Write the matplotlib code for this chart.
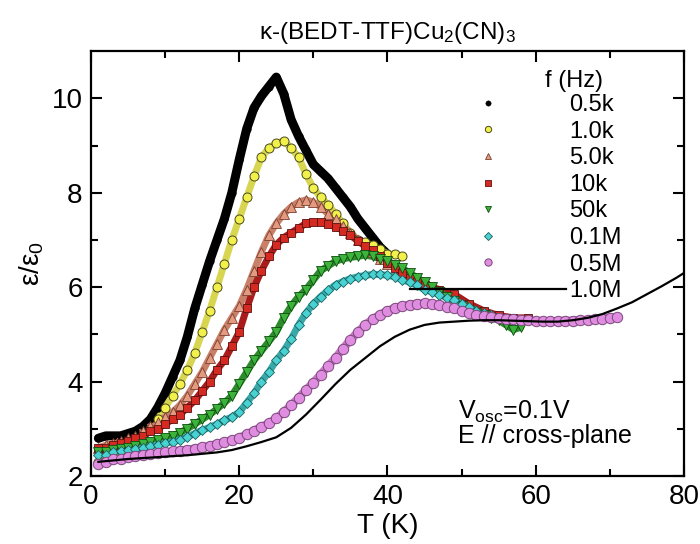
import numpy as np
import matplotlib
matplotlib.use("Agg")
import matplotlib.pyplot as plt
from matplotlib.lines import Line2D

plt.rcParams['font.family'] = ['Liberation Sans', 'DejaVu Sans']
plt.rcParams['mathtext.default'] = 'regular'

# ---------------- data ----------------
T_05k = [1, 2, 3, 4, 5, 6, 7, 8, 9, 10, 11, 12, 13, 14, 15, 16, 17, 18, 19, 20,
         21, 22, 23, 24, 25, 26, 27, 28, 29, 30, 31, 32, 33, 34, 35, 36, 37, 38, 39, 40]
E_05k = [2.8, 2.85, 2.85, 2.85, 2.9, 2.95, 3.05, 3.2, 3.45, 3.75, 4.1, 4.45, 4.95, 5.55, 6.05, 6.55, 7.0, 7.45, 8.0, 8.7,
         9.35, 9.8, 10.05, 10.25, 10.45, 10.1, 9.55, 9.2, 8.9, 8.6, 8.45, 8.3, 8.1, 7.9, 7.7, 7.45, 7.25, 7.05, 6.85, 6.7]

T_1k = [1, 2, 3, 4, 5, 6, 7, 8, 9, 10, 11, 12, 13, 14, 15, 16, 17, 18, 19, 20, 21,
        22, 23, 24, 25, 26, 27, 28, 29, 30, 31, 32, 33, 34, 35, 36, 37, 38, 39, 40, 41, 42]
E_1k = [2.3, 2.4, 2.45, 2.55, 2.65, 2.75, 2.85, 3.0, 3.2, 3.45, 3.7, 3.95, 4.25, 4.6, 5.05, 5.5, 6.0, 6.5, 7.0, 7.45, 7.9,
        8.35, 8.75, 8.95, 9.05, 9.1, 8.95, 8.75, 8.4, 8.1, 7.9, 7.75, 7.55, 7.35, 7.15, 7.0, 6.95, 6.9, 6.8, 6.7, 6.7, 6.65]

T_5k = [1, 2, 3, 4, 5, 6, 7, 8, 9, 10, 11, 12, 13, 14, 15, 16, 17, 18, 19, 20,
        21, 22, 23, 24, 25, 26, 27, 28, 29, 30, 31, 32, 33, 34, 35, 36, 37, 38, 39, 40]
E_5k = [2.6, 2.65, 2.7, 2.75, 2.8, 2.85, 2.95, 3.05, 3.15, 3.25, 3.35, 3.5, 3.7, 3.95, 4.2, 4.5, 4.8, 5.1, 5.35, 5.6,
        5.95, 6.35, 6.75, 7.1, 7.35, 7.55, 7.7, 7.8, 7.85, 7.8, 7.7, 7.55, 7.45, 7.3, 7.15, 7.0, 6.85, 6.75, 6.6, 6.5]

T_10k = [1, 2, 3, 4, 5, 6, 7, 8, 9, 10, 11, 12, 13, 14, 15, 16, 17, 18, 19, 20,
         21, 22, 23, 24, 25, 26, 27, 28, 29, 30, 31, 32, 33, 34, 35, 36, 37, 38, 39, 40,
         41, 42, 43, 44, 45, 47, 49, 51, 53, 55, 57, 59]
E_10k = [2.6, 2.6, 2.65, 2.7, 2.75, 2.8, 2.85, 2.95, 3.0, 3.1, 3.2, 3.3, 3.45, 3.6, 3.8, 4.0, 4.25, 4.45, 4.75, 5.05,
         5.55, 6.0, 6.35, 6.65, 6.9, 7.05, 7.15, 7.25, 7.35, 7.37, 7.37, 7.33, 7.28, 7.2, 7.1, 6.98, 6.88, 6.78, 6.65, 6.52,
         6.4, 6.3, 6.2, 6.12, 6.05, 5.95, 5.85, 5.65, 5.5, 5.4, 5.35, 5.35]

T_50k = [1, 2, 3, 4, 5, 6, 7, 8, 9, 10, 11, 12, 13, 14, 15, 16, 17, 18, 19, 20,
         21, 22, 23, 24, 25, 26, 27, 28, 29, 30, 31, 32, 33, 34, 35, 36, 37, 38, 39, 40,
         41, 42, 43, 44, 45, 46, 47, 48, 49, 50, 51, 52, 53, 54, 55, 56, 57, 58]
E_50k = [2.5, 2.5, 2.55, 2.58, 2.6, 2.63, 2.67, 2.72, 2.76, 2.8, 2.85, 2.92, 3.0, 3.1, 3.2, 3.3, 3.42, 3.55, 3.7, 3.95,
         4.2, 4.45, 4.65, 4.85, 5.05, 5.35, 5.6, 5.8, 5.95, 6.15, 6.35, 6.45, 6.55, 6.6, 6.63, 6.65, 6.68, 6.65, 6.6, 6.55,
         6.48, 6.4, 6.3, 6.2, 6.1, 6.0, 5.9, 5.8, 5.7, 5.6, 5.5, 5.45, 5.4, 5.35, 5.3, 5.2, 5.1, 5.15]

T_01M = [1, 2, 3, 4, 5, 6, 7, 8, 9, 10, 11, 12, 13, 14, 15, 16, 17, 18, 19, 20,
         21, 22, 23, 24, 25, 26, 27, 28, 29, 30, 31, 32, 33, 34, 35, 36, 37, 38, 39, 40,
         41, 42, 43, 44, 45, 46, 47, 48, 49, 50, 51, 52, 53, 54, 55, 56, 57, 58]
E_01M = [2.45, 2.45, 2.5, 2.52, 2.55, 2.57, 2.6, 2.63, 2.66, 2.7, 2.72, 2.77, 2.83, 2.9, 2.97, 3.03, 3.1, 3.18, 3.25, 3.35,
         3.55, 3.75, 4.0, 4.2, 4.45, 4.65, 4.9, 5.2, 5.45, 5.65, 5.8, 5.93, 6.05, 6.12, 6.18, 6.22, 6.25, 6.27, 6.27, 6.25,
         6.22, 6.16, 6.1, 6.04, 5.95, 5.9, 5.84, 5.78, 5.72, 5.65, 5.58, 5.5, 5.45, 5.4, 5.35, 5.32, 5.3, 5.3]

T_05M = [1, 2, 3, 4, 5, 6, 7, 8, 9, 10, 11, 12, 13, 14, 15, 16, 17, 18, 19, 20,
         21, 22, 23, 24, 25, 26, 27, 28, 29, 30, 31, 32, 33, 34, 35, 36, 37, 38, 39, 40,
         41, 42, 43, 44, 45, 46, 47, 48, 49, 50, 51, 52, 53, 54, 55, 56, 57, 58, 59, 60,
         61, 62, 63, 64, 65, 66, 67, 68, 69, 70, 71]
E_05M = [2.25, 2.3, 2.35, 2.37, 2.4, 2.42, 2.44, 2.46, 2.48, 2.5, 2.52, 2.54, 2.56, 2.58, 2.61, 2.64, 2.68, 2.72, 2.76, 2.81,
         2.88, 2.96, 3.04, 3.12, 3.22, 3.35, 3.5, 3.65, 3.82, 3.98, 4.15, 4.33, 4.5, 4.7, 4.88, 5.05, 5.2, 5.32, 5.42, 5.5,
         5.56, 5.6, 5.63, 5.65, 5.66, 5.65, 5.62, 5.59, 5.55, 5.5, 5.46, 5.42, 5.39, 5.37, 5.35, 5.33, 5.32, 5.31, 5.3, 5.29,
         5.28, 5.28, 5.28, 5.29, 5.29, 5.3, 5.31, 5.32, 5.33, 5.35, 5.37]

T_1M = [1, 3, 5, 7, 9, 11, 13, 15, 17, 19, 21, 23, 25, 27, 29, 31, 33, 35, 37, 39, 41,
        43, 45, 47, 49, 51, 53, 55, 57, 59, 61, 63, 65, 67, 69, 71, 73, 75, 77, 79, 80]
E_1M = [2.3, 2.33, 2.36, 2.38, 2.4, 2.42, 2.44, 2.47, 2.5, 2.55, 2.63, 2.72, 2.82, 3.02, 3.3, 3.62, 3.95, 4.25, 4.5, 4.75, 4.95,
        5.1, 5.2, 5.25, 5.27, 5.29, 5.3, 5.3, 5.29, 5.28, 5.27, 5.27, 5.3, 5.35, 5.43, 5.55, 5.68, 5.85, 6.02, 6.2, 6.3]

labels = ['0.5k', '1.0k', '5.0k', '10k', '50k', '0.1M', '0.5M', '1.0M']

# ---------------- figure ----------------
fig = plt.figure(figsize=(7.0, 5.44), dpi=100)
ax = fig.add_axes([0.13, 0.125, 0.847, 0.781])

series = [
    (T_05k, E_05k, dict(marker='o', ms=5.5, mfc='black', mec='black', mew=0.3), 'black', 6.5),
    (T_1k, E_1k, dict(marker='o', ms=6.5, mfc='#f2f04a', mec='#4a4a20', mew=0.7), '#d8d650', 5.0),
    (T_5k, E_5k, dict(marker='^', ms=6.5, mfc='#e39a80', mec='#7a3f30', mew=0.6), '#c98068', 5.0),
    (T_10k, E_10k, dict(marker='s', ms=5.5, mfc='#d42a22', mec='#5a1010', mew=0.6), '#a81c1c', 5.0),
    (T_50k, E_50k, dict(marker='v', ms=6.5, mfc='#3cb43c', mec='#104a10', mew=0.6), '#2c8c2c', 5.0),
    (T_01M, E_01M, dict(marker='D', ms=5.5, mfc='#48d2d2', mec='#1e5e5e', mew=0.6), '#38a8a8', 5.0),
    (T_05M, E_05M, dict(marker='o', ms=7.5, mfc='#e08ce0', mec='#7a4a7a', mew=0.7), '#c878c8', 6.0),
]

handles = []
for (t, e, st, lc, lw), lab in zip(series, labels[:7]):
    ax.plot(t, e, '-', color=lc, lw=lw, zorder=2, solid_capstyle='round')
    ax.plot(t, e, linestyle='none', zorder=3, **st)
    handles.append(Line2D([], [], linestyle='none', label=lab,
                          marker=st['marker'], ms=st['ms'] * 0.7, mfc=st['mfc'],
                          mec=st['mec'], mew=st['mew']))

ax.plot(T_1M, E_1M, '-', color='black', lw=1.6, zorder=4)
handles.append(Line2D([], [], color='black', lw=1.6, label=labels[7]))

ax.set_xlim(0, 80)
ax.set_ylim(2, 11)
ax.set_xticks([0, 20, 40, 60, 80])
ax.set_xticks([10, 30, 50, 70], minor=True)
ax.set_yticks([2, 4, 6, 8, 10])
ax.set_yticks([3, 5, 7, 9], minor=True)
ax.tick_params(which='both', direction='in', top=True, right=True, width=1.5,
               labelsize=20, pad=6)
ax.tick_params(which='major', length=8)
ax.tick_params(which='minor', length=5)
for sp in ax.spines.values():
    sp.set_linewidth(1.6)

ax.set_xlabel('T (K)', fontsize=20, labelpad=2)
ax.set_ylabel(r'ε/ε$_0$', fontsize=20, labelpad=4)
ax.set_title(r'κ-(BEDT-TTF)Cu$_2$(CN)$_3$', fontsize=17.5, pad=9)

leg = ax.legend(handles=handles, loc='upper right', bbox_to_anchor=(0.923, 0.938),
                frameon=False, fontsize=17, handlelength=6.6, handletextpad=0.15,
                labelspacing=0.195, borderpad=0.2)
ax.text(0.765, 0.955, 'f (Hz)', transform=ax.transAxes, fontsize=17,
        ha='left', va='top')

ax.text(0.619, 0.134, r'V$_{osc}$=0.1V', transform=ax.transAxes, fontsize=18,
        ha='left', va='baseline')
ax.text(0.619, 0.078, 'E // cross-plane', transform=ax.transAxes, fontsize=18,
        ha='left', va='baseline')

fig.savefig('out.png', dpi=100)
